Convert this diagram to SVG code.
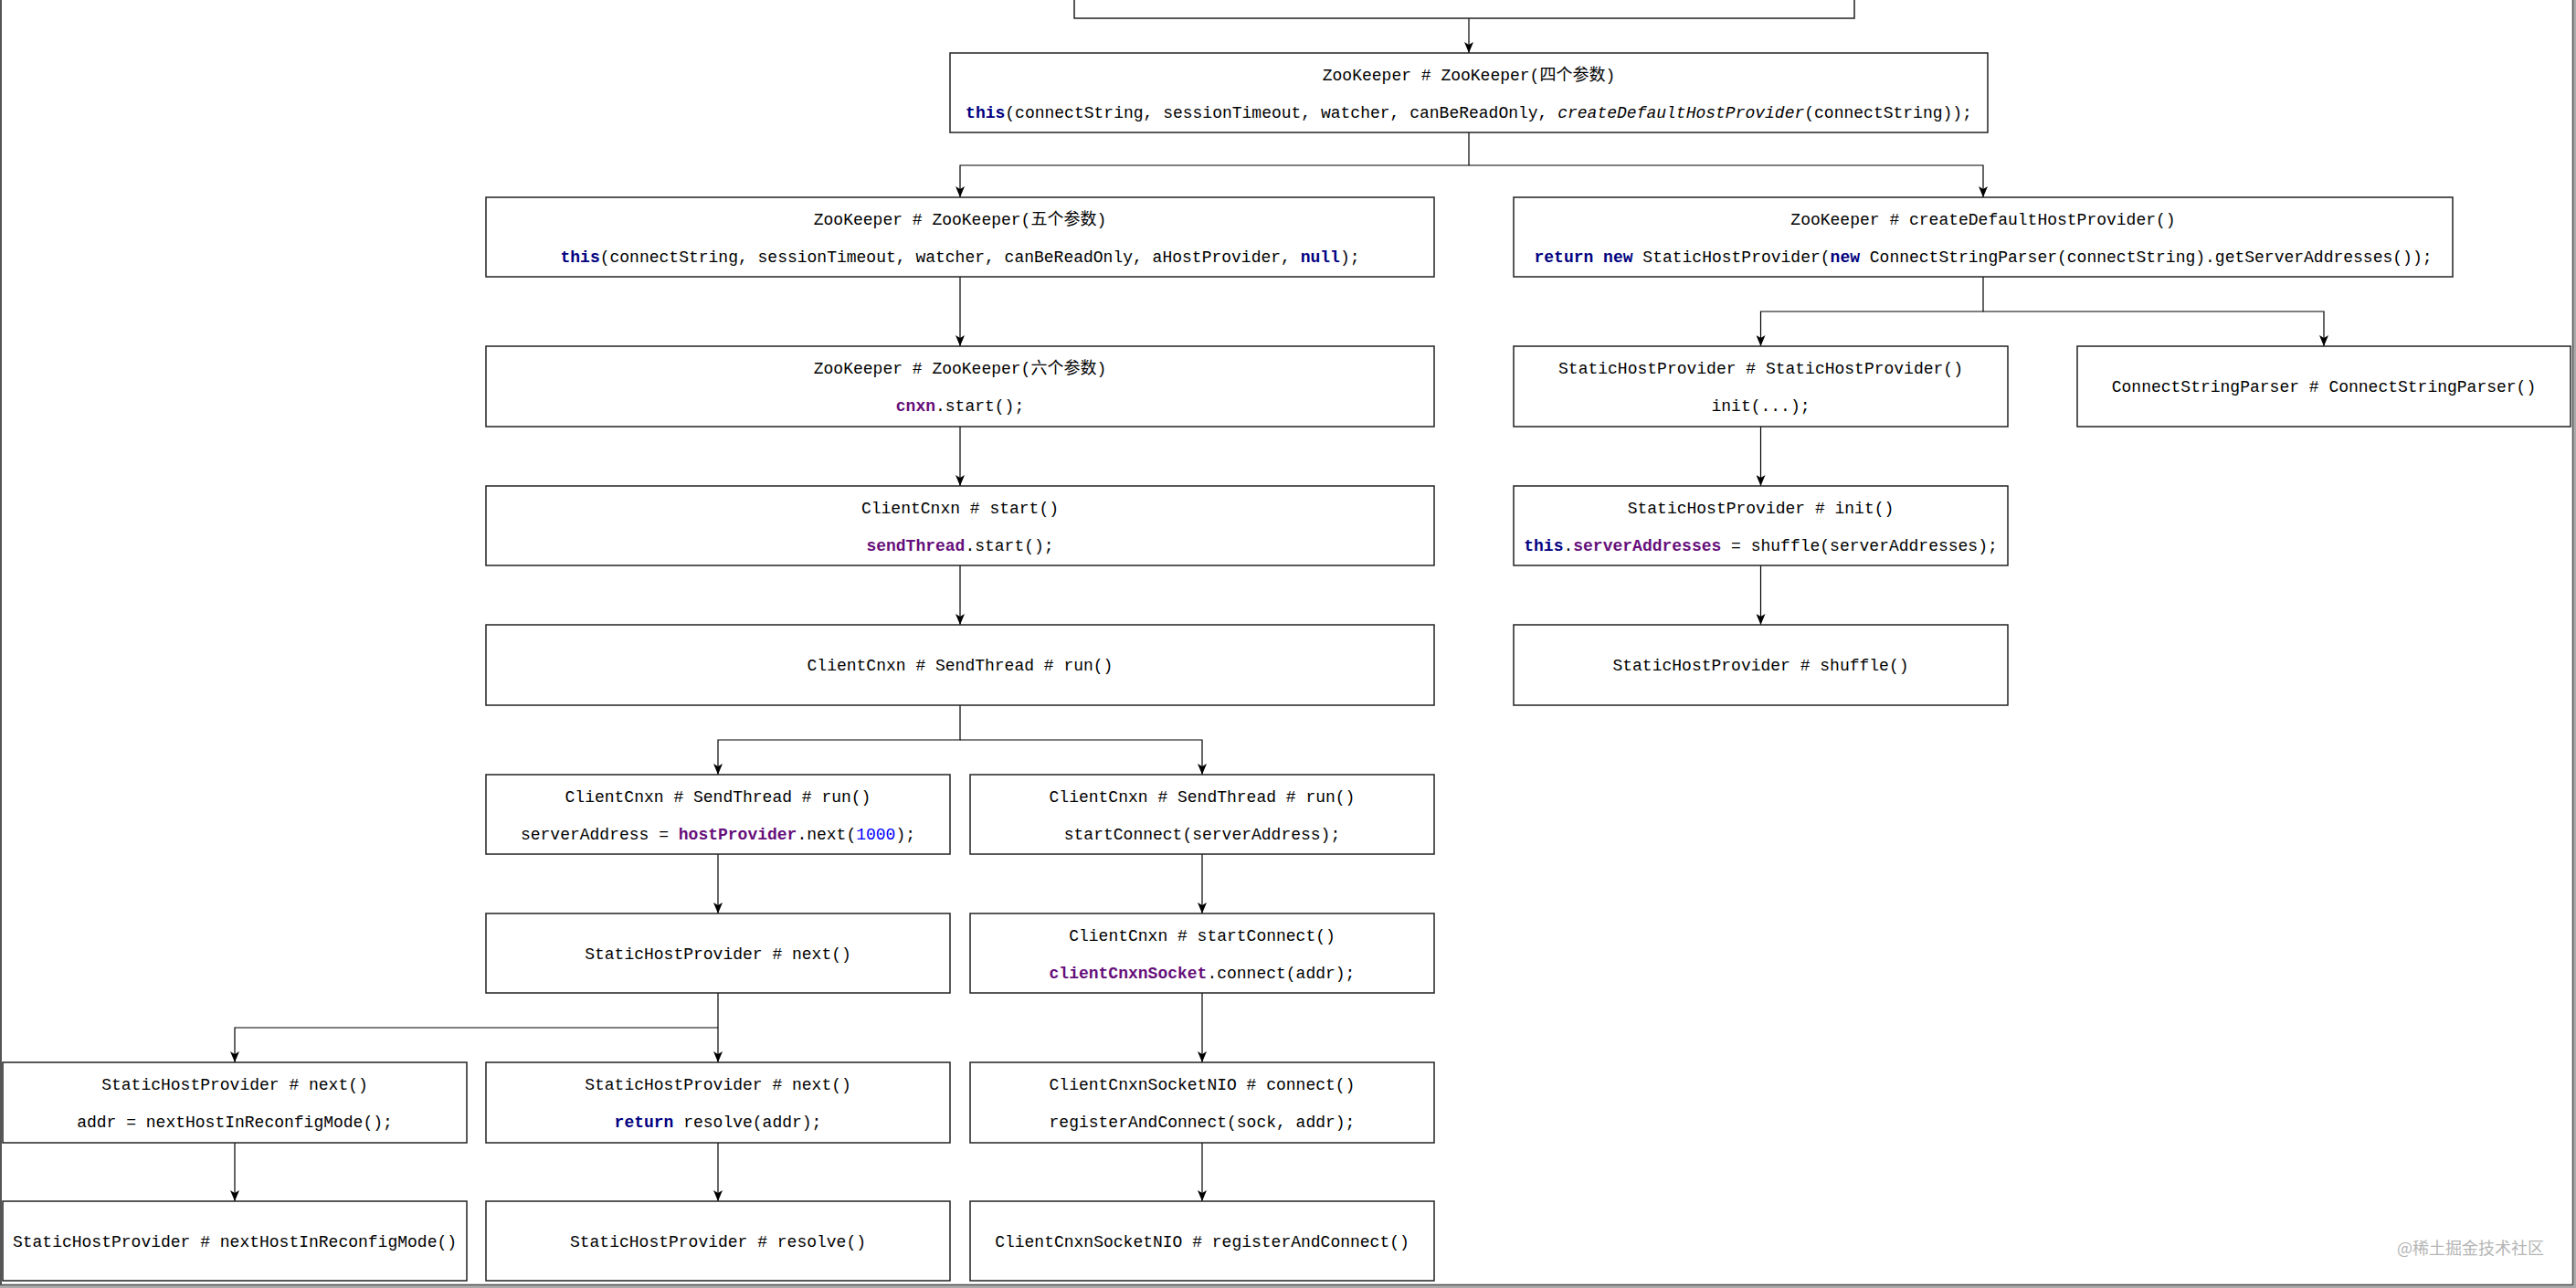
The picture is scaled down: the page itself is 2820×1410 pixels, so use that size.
<svg xmlns="http://www.w3.org/2000/svg" width="2820" height="1410" viewBox="0 0 2820 1410">
<style>
.box{fill:#fff;stroke:#222;stroke-width:1.5}
.t{font-family:"Liberation Mono","DejaVu Sans Mono","Noto Sans CJK SC",monospace;font-size:18px;fill:#000;text-anchor:middle}
.kw{fill:#000080;font-weight:bold}
.fd{fill:#660E7A;font-weight:bold}
.num{fill:#0000FF}
.it{font-style:italic}
.c{fill:none;stroke:#000;stroke-width:1.2}
.wm{font-family:"Noto Sans CJK SC","Noto Sans",sans-serif;font-size:18px;fill:#b5b5b5;text-anchor:end}
</style>
<defs>
<marker id="arr" markerUnits="userSpaceOnUse" markerWidth="12" markerHeight="10" viewBox="0 0 12 10" refX="12" refY="5" orient="auto">
<path d="M0,0 L12,5 L0,10 L3,5 z" fill="#000"/>
</marker>
</defs>
<rect x="0" y="0" width="2820" height="1410" fill="#fff"/>
<g id="frame">
<rect x="2817" y="0" width="3" height="1410" fill="#aaa"/>
<rect x="0" y="1407" width="2820" height="3" fill="#aaa"/>
<line x1="1" y1="0" x2="1" y2="1407" stroke="#555" stroke-width="2"/>
<line x1="2816.5" y1="0" x2="2816.5" y2="1407" stroke="#555" stroke-width="1.5"/>
<line x1="0" y1="1406.5" x2="2817" y2="1406.5" stroke="#555" stroke-width="1.5"/>
</g>
<g id="connectors">
<path class="c" marker-end="url(#arr)" d="M1608,20 V58"/>
<path class="c" marker-end="url(#arr)" d="M1608,145 V181 H1051 V216"/>
<path class="c" marker-end="url(#arr)" d="M1608,181 H2171 V216"/>
<path class="c" marker-end="url(#arr)" d="M1051,303 V379"/>
<path class="c" marker-end="url(#arr)" d="M2171,303 V341 H1927.5 V379"/>
<path class="c" marker-end="url(#arr)" d="M2171,341 H2544 V379"/>
<path class="c" marker-end="url(#arr)" d="M1051,467 V532"/>
<path class="c" marker-end="url(#arr)" d="M1927.5,467 V532"/>
<path class="c" marker-end="url(#arr)" d="M1051,619 V684"/>
<path class="c" marker-end="url(#arr)" d="M1927.5,619 V684"/>
<path class="c" marker-end="url(#arr)" d="M1051,772 V810 H786 V848"/>
<path class="c" marker-end="url(#arr)" d="M1051,810 H1316 V848"/>
<path class="c" marker-end="url(#arr)" d="M786,935 V1000"/>
<path class="c" marker-end="url(#arr)" d="M1316,935 V1000"/>
<path class="c" marker-end="url(#arr)" d="M786,1087 V1163"/>
<path class="c" marker-end="url(#arr)" d="M786,1125 H257 V1163"/>
<path class="c" marker-end="url(#arr)" d="M1316,1087 V1163"/>
<path class="c" marker-end="url(#arr)" d="M257,1251 V1315"/>
<path class="c" marker-end="url(#arr)" d="M786,1251 V1315"/>
<path class="c" marker-end="url(#arr)" d="M1316,1251 V1315"/>
</g>
<g id="n-top"><rect class="box" x="1176" y="-20" width="854" height="40"/></g>
<g id="n-zk4">
<rect class="box" x="1040" y="58" width="1136" height="87"/>
<text class="t" x="1608" y="88">ZooKeeper # ZooKeeper(四个参数)</text>
<text class="t" x="1608" y="129"><tspan class="kw">this</tspan>(connectString, sessionTimeout, watcher, canBeReadOnly, <tspan class="it">createDefaultHostProvider</tspan>(connectString));</text>
</g>
<g id="n-zk5">
<rect class="box" x="532" y="216" width="1038" height="87"/>
<text class="t" x="1051" y="246">ZooKeeper # ZooKeeper(五个参数)</text>
<text class="t" x="1051" y="287"><tspan class="kw">this</tspan>(connectString, sessionTimeout, watcher, canBeReadOnly, aHostProvider, <tspan class="kw">null</tspan>);</text>
</g>
<g id="n-cdhp">
<rect class="box" x="1657" y="216" width="1028" height="87"/>
<text class="t" x="2171" y="246">ZooKeeper # createDefaultHostProvider()</text>
<text class="t" x="2171" y="287"><tspan class="kw">return new</tspan> StaticHostProvider(<tspan class="kw">new</tspan> ConnectStringParser(connectString).getServerAddresses());</text>
</g>
<g id="n-zk6">
<rect class="box" x="532" y="379" width="1038" height="88"/>
<text class="t" x="1051" y="409">ZooKeeper # ZooKeeper(六个参数)</text>
<text class="t" x="1051" y="450"><tspan class="fd">cnxn</tspan>.start();</text>
</g>
<g id="n-shp-ctor">
<rect class="box" x="1657" y="379" width="541" height="88"/>
<text class="t" x="1927.5" y="409">StaticHostProvider # StaticHostProvider()</text>
<text class="t" x="1927.5" y="450">init(...);</text>
</g>
<g id="n-csp-ctor">
<rect class="box" x="2274" y="379" width="540" height="88"/>
<text class="t" x="2544" y="429">ConnectStringParser # ConnectStringParser()</text>
</g>
<g id="n-cc-start">
<rect class="box" x="532" y="532" width="1038" height="87"/>
<text class="t" x="1051" y="562">ClientCnxn # start()</text>
<text class="t" x="1051" y="603"><tspan class="fd">sendThread</tspan>.start();</text>
</g>
<g id="n-shp-init">
<rect class="box" x="1657" y="532" width="541" height="87"/>
<text class="t" x="1927.5" y="562">StaticHostProvider # init()</text>
<text class="t" x="1927.5" y="603"><tspan class="kw">this</tspan>.<tspan class="fd">serverAddresses</tspan> = shuffle(serverAddresses);</text>
</g>
<g id="n-st-run">
<rect class="box" x="532" y="684" width="1038" height="88"/>
<text class="t" x="1051" y="734">ClientCnxn # SendThread # run()</text>
</g>
<g id="n-shp-shuffle">
<rect class="box" x="1657" y="684" width="541" height="88"/>
<text class="t" x="1927.5" y="734">StaticHostProvider # shuffle()</text>
</g>
<g id="n-st-run-a">
<rect class="box" x="532" y="848" width="508" height="87"/>
<text class="t" x="786" y="878">ClientCnxn # SendThread # run()</text>
<text class="t" x="786" y="919">serverAddress = <tspan class="fd">hostProvider</tspan>.next(<tspan class="num">1000</tspan>);</text>
</g>
<g id="n-st-run-b">
<rect class="box" x="1062" y="848" width="508" height="87"/>
<text class="t" x="1316" y="878">ClientCnxn # SendThread # run()</text>
<text class="t" x="1316" y="919">startConnect(serverAddress);</text>
</g>
<g id="n-shp-next">
<rect class="box" x="532" y="1000" width="508" height="87"/>
<text class="t" x="786" y="1050">StaticHostProvider # next()</text>
</g>
<g id="n-cc-startconnect">
<rect class="box" x="1062" y="1000" width="508" height="87"/>
<text class="t" x="1316" y="1030">ClientCnxn # startConnect()</text>
<text class="t" x="1316" y="1071"><tspan class="fd">clientCnxnSocket</tspan>.connect(addr);</text>
</g>
<g id="n-shp-next-a">
<rect class="box" x="3" y="1163" width="508" height="88"/>
<text class="t" x="257" y="1193">StaticHostProvider # next()</text>
<text class="t" x="257" y="1234">addr = nextHostInReconfigMode();</text>
</g>
<g id="n-shp-next-b">
<rect class="box" x="532" y="1163" width="508" height="88"/>
<text class="t" x="786" y="1193">StaticHostProvider # next()</text>
<text class="t" x="786" y="1234"><tspan class="kw">return</tspan> resolve(addr);</text>
</g>
<g id="n-nio-connect">
<rect class="box" x="1062" y="1163" width="508" height="88"/>
<text class="t" x="1316" y="1193">ClientCnxnSocketNIO # connect()</text>
<text class="t" x="1316" y="1234">registerAndConnect(sock, addr);</text>
</g>
<g id="n-next-reconfig">
<rect class="box" x="3" y="1315" width="508" height="87"/>
<text class="t" x="257" y="1365">StaticHostProvider # nextHostInReconfigMode()</text>
</g>
<g id="n-resolve">
<rect class="box" x="532" y="1315" width="508" height="87"/>
<text class="t" x="786" y="1365">StaticHostProvider # resolve()</text>
</g>
<g id="n-register">
<rect class="box" x="1062" y="1315" width="508" height="87"/>
<text class="t" x="1316" y="1365">ClientCnxnSocketNIO # registerAndConnect()</text>
</g>
<text class="wm" x="2785" y="1373">@稀土掘金技术社区</text>
</svg>
